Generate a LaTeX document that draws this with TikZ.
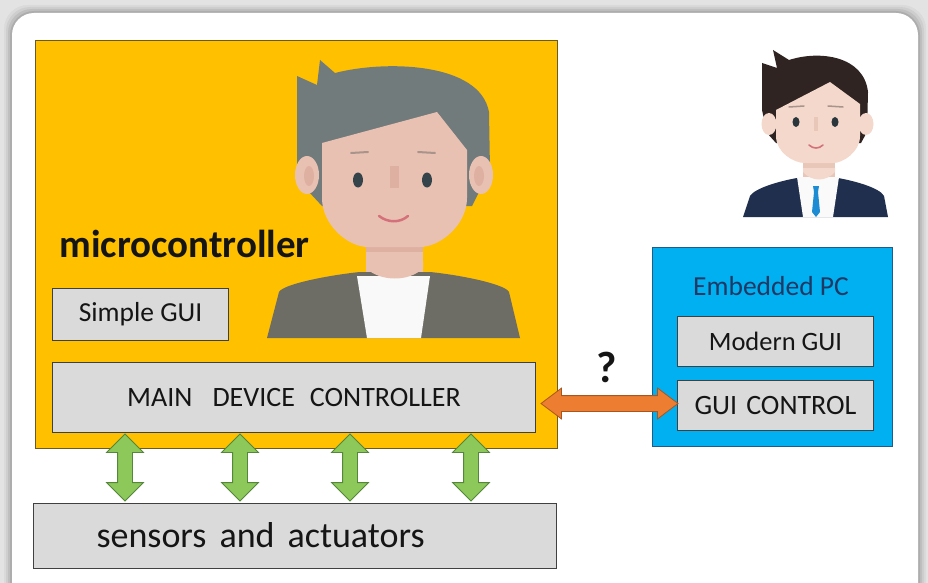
\documentclass[tikz,border=0pt]{standalone}
\usepackage{fontspec}
\setmainfont{Carlito}
\usetikzlibrary{shapes.arrows,calc}

\definecolor{pagegray}{HTML}{E3E3E3}
\definecolor{mcyellow}{HTML}{FFC000}
\definecolor{mcline}{HTML}{6A5A25}
\definecolor{pcblue}{HTML}{00B0F0}
\definecolor{pcline}{HTML}{1F5C8A}
\definecolor{boxgray}{HTML}{DADADA}
\definecolor{boxline}{HTML}{404040}
\definecolor{txt}{HTML}{151515}
\definecolor{navytxt}{HTML}{1F3864}
\definecolor{linkorange}{HTML}{ED7D31}
\definecolor{linkorangeline}{HTML}{A9561E}
\definecolor{busgreen}{HTML}{8CC85A}
\definecolor{busgreenline}{HTML}{55873A}
% engineer in the yellow block
\definecolor{hairA}{HTML}{717B7B}
\definecolor{skinA}{HTML}{E9C1B3}
\definecolor{skinAdark}{HTML}{DDB0A2}
\definecolor{jacketA}{HTML}{6E6D65}
% user beside the embedded PC
\definecolor{hairB}{HTML}{2F2421}
\definecolor{skinB}{HTML}{F3D8CB}
\definecolor{skinBdark}{HTML}{E8C6B8}
\definecolor{jacketB}{HTML}{1F2F4D}
\definecolor{tieB}{HTML}{1E8CD2}
\definecolor{eyecol}{HTML}{35444A}
\definecolor{mouthcol}{HTML}{D4717A}
\definecolor{browcol}{HTML}{A8948A}

\tikzset{
  graybox/.style={draw=boxline, fill=boxgray, line width=1pt, inner sep=0pt, anchor=north west},
  lbl/.style={text=txt, font=\fontsize{27.5}{30}\selectfont},
  busarrow/.style={double arrow, rotate=90, fill=busgreen, draw=busgreenline,
    line width=0.8pt, minimum height=67pt, inner sep=7pt,
    double arrow head extend=11pt, double arrow tip angle=90},
  linkarrow/.style={double arrow, fill=linkorange, draw=linkorangeline,
    line width=0.8pt, minimum height=137pt, inner sep=7.5pt,
    double arrow head extend=7.5pt, double arrow tip angle=74},
}

\begin{document}
\begin{tikzpicture}[x=1pt,y=-1pt]
\useasboundingbox (0,0) rectangle (928,583);

% page and card with soft shadow
\fill[pagegray] (0,0) rectangle (928,583);
\foreach \s/\o in {8/0.04,6/0.05,4/0.07,2/0.09}{
  \fill[black,opacity=\o,rounded corners=24pt] (12-\s,13-\s) rectangle (918+\s,650);
}
\fill[white,rounded corners=22pt] (12,13) rectangle (918,650);

% microcontroller block
\node[draw=mcline, fill=mcyellow, line width=0.8pt, anchor=north west,
      minimum width=522pt, minimum height=408pt, inner sep=0pt] (mc) at (35,40) {};
\node[anchor=base west, text=txt, font=\bfseries\fontsize{39}{42}\selectfont] (mctitle) at (56,257) {microcontroller};

% engineer figure
\begin{scope}
  \fill[hairA] (297,76) -- (317,85) -- (320,60) -- (335,73)
     .. controls (385,60) and (480,62) .. (489,112) -- (490,170) -- (472,206)
     -- (322,206) -- (309,192) -- (297,166) -- cycle;
  \fill[skinA] (307,175) ellipse [x radius=12, y radius=19];
  \fill[skinA] (481,175) ellipse [x radius=12, y radius=19];
  \fill[skinAdark] (309,176) ellipse [x radius=5, y radius=10];
  \fill[skinAdark] (479,176) ellipse [x radius=5, y radius=10];
  \fill[skinAdark] (366,232) rectangle (423,286);
  \fill[skinA] (366,252) rectangle (423,286);
  \fill[jacketA] (267,338) -- (279,292) .. controls (283,284) and (330,275) .. (360,272)
     -- (430,272) .. controls (460,275) and (505,284) .. (509,292) -- (520,338) -- cycle;
  \fill[white!95!gray] (357,276) -- (430,276) -- (421,338) -- (367,338) -- cycle;
  \fill[skinA] (366,268) .. controls (380,282) and (410,282) .. (423,268) -- (423,262) -- (366,262) -- cycle;
  \fill[skinA] (322,143) -- (437,112) -- (467,150) -- (467,198)
     .. controls (467,225) and (440,247) .. (420,247) -- (368,247)
     .. controls (348,247) and (322,225) .. (322,198) -- cycle;
  \fill[skinAdark] (390,166) rectangle (399,188);
  \fill[eyecol] (358,180) ellipse [x radius=5, y radius=7.5];
  \fill[eyecol] (427,180) ellipse [x radius=5, y radius=7.5];
  \draw[browcol, line width=2pt, line cap=round] (351,153) -- (368,152);
  \draw[browcol, line width=2pt, line cap=round] (418,152) -- (435,153);
  \draw[mouthcol, line width=2.5pt, line cap=round] (379,216) .. controls (388,223) and (400,223) .. (408,216);
\end{scope}

% inner blocks of the microcontroller
\node[graybox, minimum width=176pt, minimum height=52pt] (simple) at (52,288) {};
\node[lbl] (simpletxt) at (simple.center) {Simple GUI};
\node[graybox, minimum width=483pt, minimum height=70pt] (main) at (52,362) {};
\node[lbl, font=\fontsize{28}{30}\selectfont] (maintxt) at (main.center) {MAIN\hspace{20pt}DEVICE\hspace{15pt}CONTROLLER};

% sensors and actuators
\node[graybox, minimum width=523pt, minimum height=65pt] (sens) at (33,503) {};
\node[anchor=base west, text=txt, font=\fontsize{36}{40}\selectfont] (senstxt) at (93,547)
  {sensors\hspace{13pt}and\hspace{13pt}actuators};

% embedded PC block
\node[draw=pcline, fill=pcblue, line width=0.8pt, anchor=north west,
      minimum width=240pt, minimum height=199pt, inner sep=0pt] (pc) at (652,247) {};
\node[text=navytxt, font=\fontsize{27.5}{30}\selectfont] (pctitle) at (771,286) {Embedded PC};
\node[graybox, minimum width=196pt, minimum height=50pt] (modern) at (677,316) {};
\node[lbl, font=\fontsize{26.5}{30}\selectfont] (moderntxt) at (modern.center) {Modern GUI};
\node[graybox, minimum width=196pt, minimum height=50pt] (guictl) at (677,380) {};
\node[lbl, font=\fontsize{28}{30}\selectfont] (guictltxt) at (guictl.center) {GUI\hspace{9pt}CONTROL};

% user figure
\begin{scope}
  \fill[hairB] (762,63) -- (777,68) -- (773,50) -- (789,60)
     .. controls (820,50) and (864,56) .. (868,92) -- (867,132) -- (861,143)
     -- (776,143) -- (767,133) -- (762,110) -- cycle;
  \fill[skinB] (769,124) ellipse [x radius=7.5, y radius=11];
  \fill[skinB] (866,124) ellipse [x radius=7.5, y radius=11];
  \fill[skinBdark] (803,150) rectangle (835,186);
  \fill[jacketB] (743,217) -- (750,196) .. controls (755,188) and (780,181) .. (797,178)
     -- (838,178) .. controls (855,181) and (880,188) .. (884,196) -- (888,217) -- cycle;
  \fill[white!96!gray] (797,177) -- (839,177) -- (833,217) -- (803,217) -- cycle;
  \fill[skinB] (803,172) .. controls (812,182) and (826,182) .. (835,172) -- (835,168) -- (803,168) -- cycle;
  \fill[tieB] (813,186) -- (819,186) -- (818,192) -- (814,192) -- cycle;
  \fill[tieB] (814,192) -- (818,192) -- (820,212) -- (816,217) -- (812,212) -- cycle;
  \fill[skinB] (776,110) -- (830,82) -- (860,104) -- (860,136)
     .. controls (860,152) and (843,163) .. (833,163) -- (805,163)
     .. controls (793,163) and (776,152) .. (776,136) -- cycle;
  \fill[skinBdark] (814,117) rectangle (818,131);
  \fill[eyecol!80!black] (796,122) ellipse [x radius=3.5, y radius=5];
  \fill[eyecol!80!black] (835,122) ellipse [x radius=3.5, y radius=5];
  \draw[browcol, line width=1.5pt, line cap=round] (789,107) -- (804,106);
  \draw[browcol, line width=1.5pt, line cap=round] (828,106) -- (843,107);
  \draw[mouthcol, line width=1.6pt, line cap=round] (809,145) .. controls (813,149) and (819,149) .. (823,145);
\end{scope}

% link between controller and GUI control
\node[linkarrow] (link) at ($(main.east)!0.5!(guictl.west)+(3,2)$) {};
\node[text=txt, font=\bfseries\fontsize{44}{46}\selectfont] (question) at (607,367) {?};

% connections to sensors and actuators
\foreach \x [count=\i] in {125,240,350,471}{
  \node[busarrow] (bus\i) at (\x,{0.5*(432+503)}) {};
}
\end{tikzpicture}
\end{document}
